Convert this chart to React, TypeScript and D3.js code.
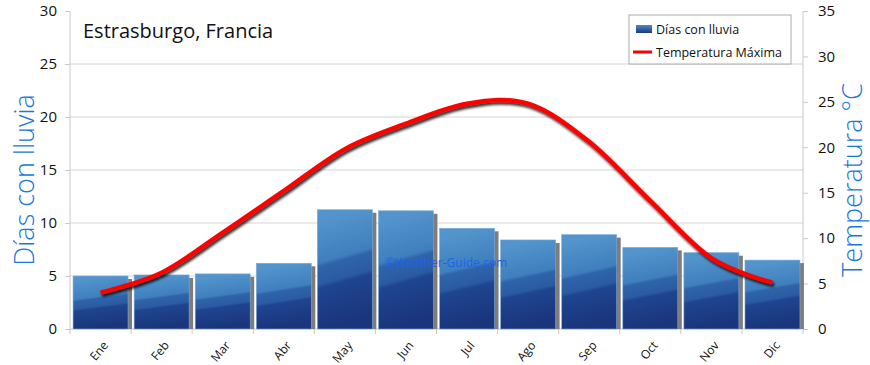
import React, { useEffect, useRef } from "react";
import * as d3 from "d3";

const months = ["Ene", "Feb", "Mar", "Abr", "May", "Jun", "Jul", "Ago", "Sep", "Oct", "Nov", "Dic"];
const rainDays = [5.0, 5.1, 5.2, 6.2, 11.25, 11.15, 9.5, 8.4, 8.9, 7.7, 7.2, 6.5];
const maxTemp = [4.0, 6.2, 10.6, 15.2, 19.8, 22.6, 24.8, 24.8, 20.6, 14.1, 7.8, 5.1];
const leftTicks = [0, 5, 10, 15, 20, 25, 30];
const rightTicks = [0, 5, 10, 15, 20, 25, 30, 35];

const W = 870;
const H = 365;
const FONT = "'Open Sans', 'DejaVu Sans', sans-serif";

const App = () => {
  const ref = useRef<SVGSVGElement>(null);

  useEffect(() => {
    const svg = d3.select(ref.current);
    svg.selectAll("*").remove();

    const left = 70, right = 803, top = 11, bottom = 329;

    const x = d3.scaleBand().domain(months).range([left, right]).paddingInner(0.1).paddingOuter(0.05);
    const yL = d3.scaleLinear().domain([0, 30]).range([bottom, top]);
    const yR = d3.scaleLinear().domain([0, 35]).range([bottom, top]);

    const defs = svg.append("defs");
    const grad = defs.append("linearGradient").attr("id", "barGrad")
      .attr("x1", 0).attr("y1", 0.1).attr("x2", 0.12).attr("y2", 1);
    [
      ["0%", "#5394cc"], ["38%", "#3f7fbd"], ["42%", "#2f64aa"], ["58%", "#2a5ba2"],
      ["62%", "#1f4590"], ["100%", "#1a357c"],
    ].forEach(([o, c]) => grad.append("stop").attr("offset", o).attr("stop-color", c));

    const legGrad = defs.append("linearGradient").attr("id", "legGrad")
      .attr("x1", 0).attr("y1", 0).attr("x2", 0).attr("y2", 1);
    legGrad.append("stop").attr("offset", "0%").attr("stop-color", "#4c8cc6");
    legGrad.append("stop").attr("offset", "100%").attr("stop-color", "#1b3780");

    const shadow = defs.append("filter").attr("id", "lineShadow")
      .attr("x", "-10%").attr("y", "-10%").attr("width", "120%").attr("height", "130%");
    shadow.append("feDropShadow").attr("dx", 1.5).attr("dy", 2.5).attr("stdDeviation", 1.3)
      .attr("flood-color", "#000").attr("flood-opacity", 0.8);

    // grid
    svg.append("g").selectAll("line").data(leftTicks.filter(t => t > 0 && t < 30)).join("line")
      .attr("x1", left).attr("x2", right)
      .attr("y1", d => yL(d)).attr("y2", d => yL(d))
      .attr("stroke", "#d4d4d4").attr("stroke-width", 1);

    // left axis
    const gL = svg.append("g").attr("transform", `translate(${left},0)`)
      .call(d3.axisLeft(yL).tickValues(leftTicks).tickSize(5).tickPadding(8));
    // right axis
    const gR = svg.append("g").attr("transform", `translate(${right},0)`)
      .call(d3.axisRight(yR).tickValues(rightTicks).tickSize(5).tickPadding(10));
    [gL, gR].forEach(g => {
      g.select(".domain").attr("stroke", "#c8c8c8").attr("d", null);
      g.selectAll(".tick line").attr("stroke", "#c8c8c8");
      g.selectAll("text").attr("font-family", FONT).attr("font-size", 15).attr("fill", "#111");
    });
    gL.append("line").attr("y1", top).attr("y2", bottom).attr("stroke", "#c8c8c8");
    gR.append("line").attr("y1", top).attr("y2", bottom).attr("stroke", "#c8c8c8");

    // bottom axis
    const step = (right - left) / months.length;
    svg.append("line").attr("x1", left).attr("x2", right).attr("y1", bottom).attr("y2", bottom)
      .attr("stroke", "#c8c8c8");
    svg.append("g").selectAll("line").data(d3.range(months.length + 1)).join("line")
      .attr("x1", i => left + i * step).attr("x2", i => left + i * step)
      .attr("y1", bottom).attr("y2", bottom + 5).attr("stroke", "#c8c8c8");
    svg.append("g").selectAll("text").data(months).join("text")
      .attr("transform", d => `translate(${(x(d) as number) + x.bandwidth() / 2 + 5},${bottom + 14}) rotate(-50)`)
      .attr("text-anchor", "end").attr("dy", "0.35em")
      .attr("font-family", FONT).attr("font-size", 12).attr("fill", "#111")
      .text(d => d);

    // bars
    const bars = svg.append("g");
    bars.selectAll("rect.sh").data(months).join("rect").attr("class", "sh")
      .attr("x", d => (x(d) as number) + 4)
      .attr("y", (d, i) => yL(rainDays[i]) + 3)
      .attr("width", x.bandwidth())
      .attr("height", (d, i) => bottom - yL(rainDays[i]) - 3)
      .attr("fill", "#7d7d7d");
    bars.selectAll("rect.b").data(months).join("rect").attr("class", "b")
      .attr("x", d => x(d) as number)
      .attr("y", (d, i) => yL(rainDays[i]))
      .attr("width", x.bandwidth())
      .attr("height", (d, i) => bottom - yL(rainDays[i]))
      .attr("fill", "url(#barGrad)")
      .attr("stroke", "#78aadb").attr("stroke-width", 0.6);

    // watermark
    svg.append("text").attr("x", 446).attr("y", 267).attr("text-anchor", "middle")
      .attr("font-family", FONT).attr("font-size", 12).attr("fill", "#1d62ea")
      .text("©Weather-Guide.com");

    // temperature line
    const line = d3.line<number>()
      .x((d, i) => (x(months[i]) as number) + x.bandwidth() / 2)
      .y(d => yR(d))
      .curve(d3.curveCatmullRom.alpha(0));
    svg.append("path").datum(maxTemp)
      .attr("d", line)
      .attr("fill", "none").attr("stroke", "#ff0000").attr("stroke-width", 4.5)
      .attr("stroke-linecap", "butt")
      .attr("filter", "url(#lineShadow)");

    // title
    svg.append("text").attr("x", 83).attr("y", 38)
      .attr("font-family", FONT).attr("font-size", 20).attr("fill", "#111")
      .text("Estrasburgo, Francia");

    // axis titles
    svg.append("text").attr("transform", `translate(34,${(top + bottom) / 2 + 10}) rotate(-90)`)
      .attr("text-anchor", "middle").attr("font-family", FONT).attr("font-size", 27)
      .attr("font-weight", 300).attr("fill", "#1a78d8")
      .text("Días con lluvia");
    svg.append("text").attr("transform", `translate(862,${(top + bottom) / 2 + 10}) rotate(-90)`)
      .attr("text-anchor", "middle").attr("font-family", FONT).attr("font-size", 27)
      .attr("font-weight", 300).attr("fill", "#1a78d8")
      .text("Temperatura °C");

    // legend
    const lg = svg.append("g").attr("transform", "translate(629,15)");
    lg.append("rect").attr("width", 162).attr("height", 49)
      .attr("fill", "#fff").attr("stroke", "#aaa");
    lg.append("rect").attr("x", 7).attr("y", 10).attr("width", 16).attr("height", 8).attr("fill", "url(#legGrad)");
    lg.append("text").attr("x", 27).attr("y", 19).attr("font-family", FONT).attr("font-size", 12.5)
      .attr("fill", "#111").text("Días con lluvia");
    lg.append("line").attr("x1", 4).attr("x2", 23).attr("y1", 37).attr("y2", 37)
      .attr("stroke", "#ff0000").attr("stroke-width", 3);
    lg.append("text").attr("x", 27).attr("y", 42).attr("font-family", FONT).attr("font-size", 12.5)
      .attr("fill", "#111").text("Temperatura Máxima");
  }, []);

  return (
    <svg ref={ref} width={W} height={H} style={{ display: "block", position: "absolute", left: 0, top: 0 }} />
  );
};

export default App;
